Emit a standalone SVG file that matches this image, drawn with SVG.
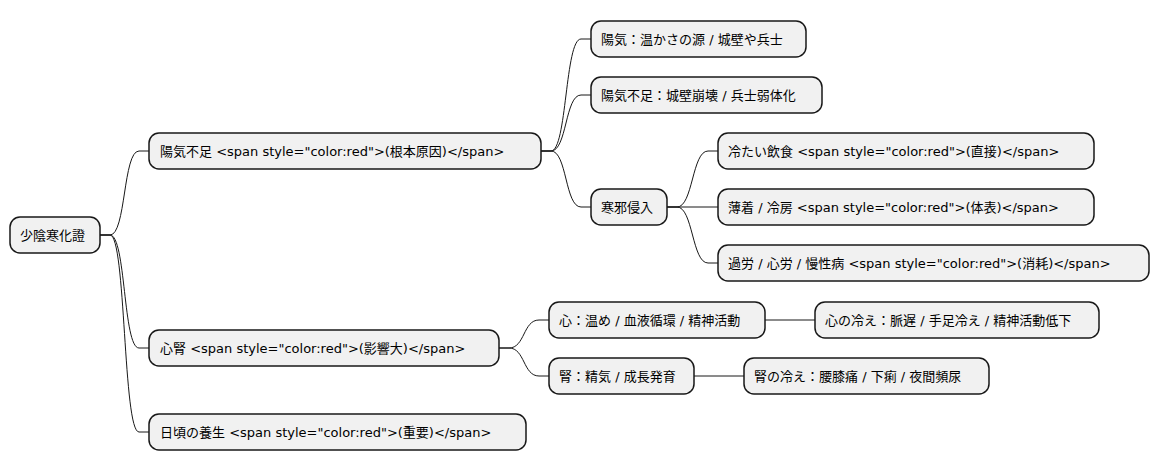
<svg xmlns="http://www.w3.org/2000/svg" width="1160" height="471" viewBox="0 0 1160 471">
<style>
.n rect{fill:#F1F1F1;stroke:#181818;stroke-width:1.5}
.n text{font-family:"DejaVu Sans","Noto Sans CJK JP",sans-serif;font-size:13px;fill:#000}
.c path{fill:none;stroke:#181818;stroke-width:1}
</style>
<rect width="1160" height="471" fill="#fff"/>
<g class="c">
<path d="M100,235 H110 C126,235 123,151 139,151 H149"/>
<path d="M100,235 H110 C126,235 123,348 139,348 H149"/>
<path d="M100,235 H110 C126,235 123,432 139,432 H149"/>
<path d="M541,151 H551 C567,151 565,39 581,39 H591"/>
<path d="M541,151 H551 C567,151 565,95 581,95 H591"/>
<path d="M541,151 H551 C567,151 565,207 581,207 H591"/>
<path d="M667,207 H677 C693,207 692,151 708,151 H718"/>
<path d="M667,207 H718"/>
<path d="M667,207 H677 C693,207 692,263 708,263 H718"/>
<path d="M499,348 H509 C525,348 523,320 539,320 H549"/>
<path d="M499,348 H509 C525,348 523,376 539,376 H549"/>
<path d="M765,320 H815"/>
<path d="M694,376 H744"/>
</g>
<g id="root" class="n"><rect x="10" y="217" width="90" height="36" rx="10"/><text x="20" y="240">少陰寒化證</text></g>
<g id="n1" class="n"><rect x="149" y="133" width="392" height="36" rx="10"/><text x="160" y="156">陽気不足 &lt;span style="color:red"&gt;(根本原因)&lt;/span&gt;</text></g>
<g id="n11" class="n"><rect x="591" y="21" width="215" height="36" rx="10"/><text x="601" y="44">陽気：温かさの源 / 城壁や兵士</text></g>
<g id="n12" class="n"><rect x="591" y="77" width="231" height="36" rx="10"/><text x="601" y="100">陽気不足：城壁崩壊 / 兵士弱体化</text></g>
<g id="n13" class="n"><rect x="591" y="189" width="76" height="36" rx="10"/><text x="601" y="212">寒邪侵入</text></g>
<g id="n131" class="n"><rect x="718" y="133" width="376" height="36" rx="10"/><text x="728" y="156">冷たい飲食 &lt;span style="color:red"&gt;(直接)&lt;/span&gt;</text></g>
<g id="n132" class="n"><rect x="718" y="189" width="376" height="36" rx="10"/><text x="728" y="212">薄着 / 冷房 &lt;span style="color:red"&gt;(体表)&lt;/span&gt;</text></g>
<g id="n133" class="n"><rect x="718" y="245" width="431" height="36" rx="10"/><text x="728" y="268">過労 / 心労 / 慢性病 &lt;span style="color:red"&gt;(消耗)&lt;/span&gt;</text></g>
<g id="n2" class="n"><rect x="149" y="330" width="350" height="36" rx="10"/><text x="160" y="353">心腎 &lt;span style="color:red"&gt;(影響大)&lt;/span&gt;</text></g>
<g id="n21" class="n"><rect x="549" y="302" width="216" height="36" rx="10"/><text x="559" y="325">心：温め / 血液循環 / 精神活動</text></g>
<g id="n211" class="n"><rect x="815" y="302" width="284" height="36" rx="10"/><text x="825" y="325">心の冷え：脈遅 / 手足冷え / 精神活動低下</text></g>
<g id="n22" class="n"><rect x="549" y="358" width="145" height="36" rx="10"/><text x="559" y="381">腎：精気 / 成長発育</text></g>
<g id="n221" class="n"><rect x="744" y="358" width="245" height="36" rx="10"/><text x="754" y="381">腎の冷え：腰膝痛 / 下痢 / 夜間頻尿</text></g>
<g id="n3" class="n"><rect x="149" y="414" width="377" height="36" rx="10"/><text x="160" y="437">日頃の養生 &lt;span style="color:red"&gt;(重要)&lt;/span&gt;</text></g>
</svg>
